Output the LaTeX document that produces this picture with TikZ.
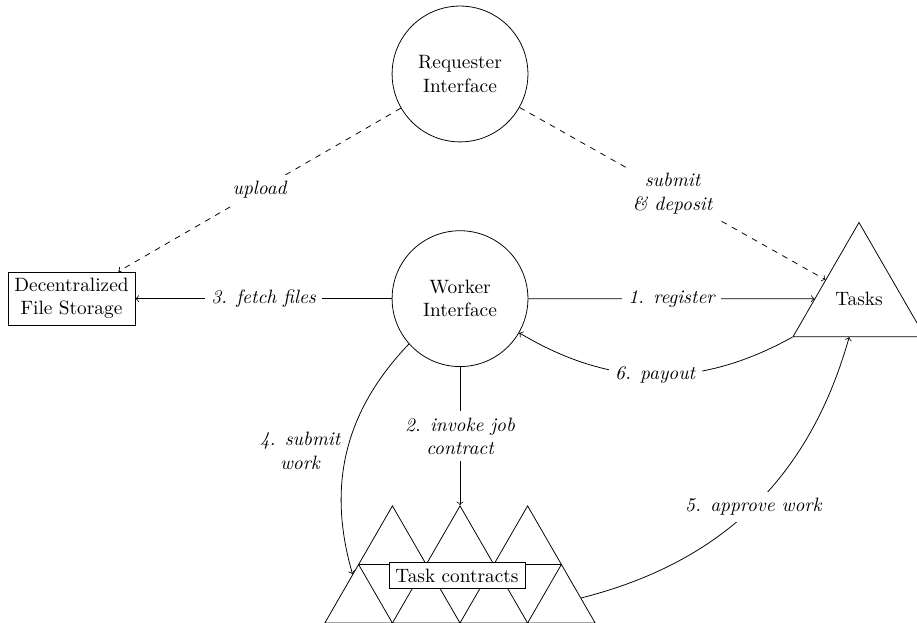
\documentclass[tikz,border=0pt]{standalone}
\usepackage{amsmath}
\usepackage{amssymb}
\usepackage{tikz}
\usetikzlibrary{shapes.geometric}

\begin{document}
\begin{tikzpicture}[iface/.style={circle, draw, minimum size=2.47cm, align=center},
        tri/.style={regular polygon, regular polygon sides=3, draw, inner sep=0pt, minimum size=1.419cm},
        lbl/.style={font=\itshape, fill=white, align=center}]
        \useasboundingbox (0, 0) rectangle (16.673, -11.327);
        \node[iface] (req) at (8.364, -1.345) {Requester\\Interface};
        \node[iface] (worker) at (8.364, -5.43) {Worker\\Interface};
        \node[draw, align=center] (storage) at (1.3, -5.43) {Decentralized\\File Storage};
        \node[tri, minimum size=2.77cm] (tasks) at (15.618, -5.43) {Tasks};
        %task contracts
        \node[tri] (ct1) at (7.135, -9.908) {};
        \node[tri] (ct2) at (8.364, -9.908) {};
        \node[tri] (ct3) at (9.593, -9.908) {};
        \node[tri] (cb1) at (6.520, -10.973) {};
        \node[tri] (cb2) at (7.749, -10.973) {};
        \node[tri] (cb3) at (8.978, -10.973) {};
        \node[tri] (cb4) at (10.207, -10.973) {};
        \node[draw, fill=white] (contracts) at (8.309, -10.464) {Task contracts};
        \draw[dashed, ->] (req) -- node[lbl] {upload} (storage);
        \draw[dashed, ->] (req) -- node[lbl] {submit\\\& deposit} (tasks);
        \draw[->] (worker) -- node[lbl] {3. fetch files} (storage);
        \draw[->] (worker) -- node[lbl] {1. register} (tasks);
        \draw[->] (worker) -- node[lbl] {2. invoke job\\contract} (ct2);
        \draw[->] (worker) to[bend right] node[left, font=\itshape, align=center] {4. submit\\work} (cb1);
        \draw[->] (cb4) to[bend right] node[lbl] {5. approve work} (tasks);
        \draw[->] (tasks) to[bend left] node[lbl] {6. payout} (worker);
\end{tikzpicture}
\end{document}
